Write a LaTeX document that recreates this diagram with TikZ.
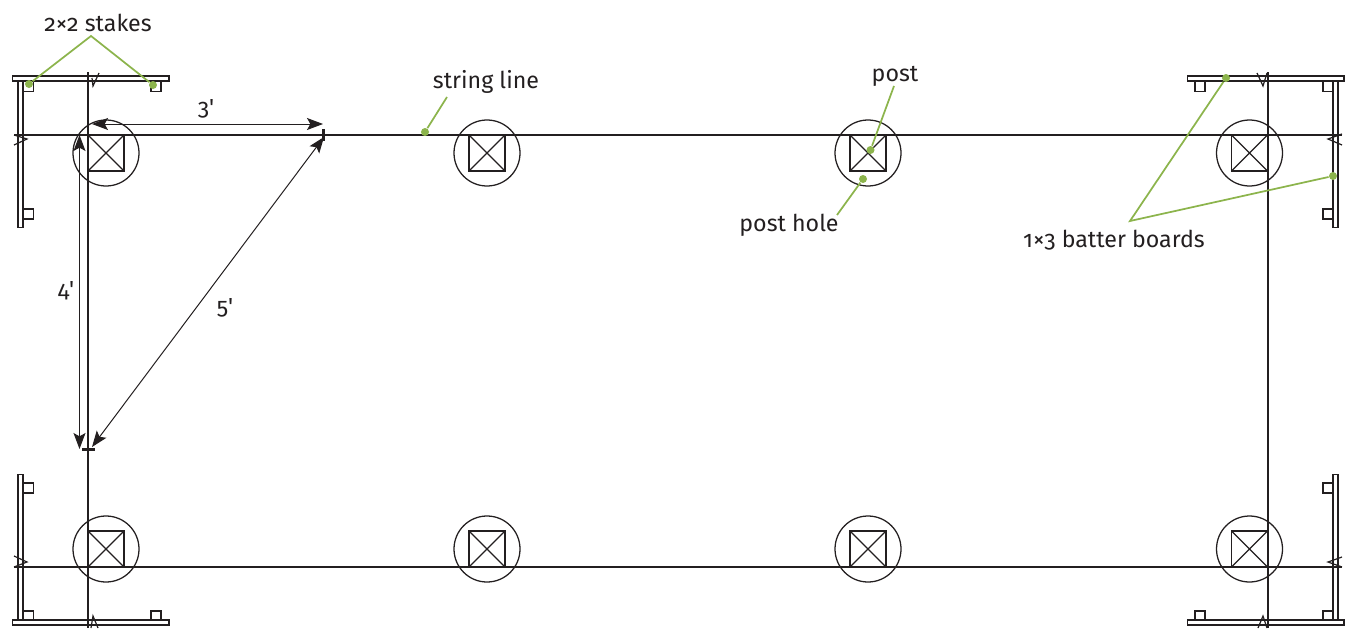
\documentclass[tikz,border=0pt]{standalone}
\usepackage{fontspec}
\setmainfont[Numbers=OldStyle]{Fira Sans}
\usepackage{tikz}
\usetikzlibrary{arrows.meta,positioning}
\definecolor{ink}{HTML}{231F20}
\definecolor{leaf}{HTML}{8CB44C}

\begin{document}
\begin{tikzpicture}[
    x = 0.75pt, y = -0.75pt, % one unit is one pixel, y runs downwards
    > = {Stealth[length=12pt,width=9pt,inset=2.5pt]}, % arrow head style
    line width = 0.8pt,
    draw = ink,
    post/.style = {draw = ink, line width = 1.4pt, minimum size = 27pt, inner sep = 0pt, outer sep = 0pt,
        path picture = {\draw[ink, line width = 0.9pt]
            (path picture bounding box.north west) -- (path picture bounding box.south east)
            (path picture bounding box.north east) -- (path picture bounding box.south west);}},
    hole/.style = {circle, draw = ink, line width = 0.95pt, minimum size = 49.5pt, inner sep = 0pt},
    hboard/.style = {draw = ink, fill = white, line width = 1pt, minimum width = 117.5pt, minimum height = 3.8pt, inner sep = 0pt},
    vboard/.style = {draw = ink, fill = white, line width = 1pt, minimum width = 3.8pt, minimum height = 110pt, inner sep = 0pt},
    stake/.style = {draw = ink, fill = white, line width = 1.05pt, minimum size = 7.6pt, inner sep = 0pt},
    string/.style = {ink, line width = 1.05pt},
    breakmark/.style = {ink, line width = 0.9pt},
    dim/.style = {ink, line width = 0.75pt, <->},
    tick/.style = {ink, line width = 1.7pt},
    leader/.style = {leaf, line width = 1.3pt},
    dot/.style = {circle, fill = leaf, minimum size = 6pt, inner sep = 0pt},
    lbl/.style = {text = ink, font = \fontsize{17.4}{20}\selectfont, inner sep = 0pt}
    ]
    \useasboundingbox (0,0) rectangle (1352,628);

    % stakes
    \node[stake] (st1) at (28.5,86.5) {};
    \node[stake] (st2) at (156,86.5) {};
    \node[stake] (st3) at (28.5,214) {};
    \node[stake] (st4) at (1200,86.5) {};
    \node[stake] (st5) at (1328,86.5) {};
    \node[stake] (st6) at (1328,214) {};
    \node[stake] (st7) at (28.5,488) {};
    \node[stake] (st8) at (28.5,616) {};
    \node[stake] (st9) at (156,616) {};
    \node[stake] (st10) at (1200,616) {};
    \node[stake] (st11) at (1328,616) {};
    \node[stake] (st12) at (1328,488) {};

    % batter boards
    \node[vboard] (bv1) at (20.5,154) {};
    \node[vboard] (bv2) at (1335.5,154) {};
    \node[vboard] (bv3) at (20.5,547.5) {};
    \node[vboard] (bv4) at (1335.5,547.5) {};
    \node[hboard] (bh1) at (90.5,78.5) {};
    \node[hboard] (bh2) at (1265.5,78.5) {};
    \node[hboard] (bh3) at (90.5,622.5) {};
    \node[hboard] (bh4) at (1265.5,622.5) {};

    % posts and holes
    \node[post] (p1) at (106,153) {};
    \node[post] (p2) at (487,153) {};
    \node[post] (p3) at (868,153) {};
    \node[post] (p4) at (1249.5,153) {};
    \node[post] (p5) at (106,549) {};
    \node[post] (p6) at (487,549) {};
    \node[post] (p7) at (868,549) {};
    \node[post] (p8) at (1249.5,549) {};
    \node[hole] (h1) at (p1) {};
    \node[hole] (h2) at (p2) {};
    \node[hole] (h3) at (p3) {};
    \node[hole] (h4) at (p4) {};
    \node[hole] (h5) at (p5) {};
    \node[hole] (h6) at (p6) {};
    \node[hole] (h7) at (p7) {};
    \node[hole] (h8) at (p8) {};

    % string lines
    \coordinate (sw1) at (14,135);
    \coordinate (se1) at (1342,135);
    \coordinate (sw2) at (14,567);
    \coordinate (se2) at (1342,567);
    \coordinate (sn1) at (88,72);
    \coordinate (ss1) at (88,628);
    \coordinate (sn2) at (1268,72);
    \coordinate (ss2) at (1268,628);
    \draw[string] (sw1) -- (se1);
    \draw[string] (sw2) -- (se2);
    \draw[string] (sn1) -- (ss1);
    \draw[string] (sn2) -- (ss2);

    % break marks where the strings are tied
    \draw[breakmark] (14,135) -- (27,139) -- (14,145);
    \draw[breakmark] (1342,134) -- (1328,139) -- (1342,145);
    \draw[breakmark] (14,556) -- (27,562) -- (14,567);
    \draw[breakmark] (1342,557) -- (1328,562) -- (1342,567);
    \draw[breakmark] (92,78) -- (93,86) -- (99,73);
    \draw[breakmark] (1257,73) -- (1263,86) -- (1267,73);
    \draw[breakmark] (91,628) -- (93,616) -- (98,628);
    \draw[breakmark] (1258,628) -- (1263,616) -- (1267,628);

    % 3-4-5 check
    \coordinate (m3) at (323.5,135);
    \coordinate (m4) at (88,449.5);
    \draw[tick] (323.5,129) -- (m3) -- (323.5,141);
    \draw[tick] (82,449.5) -- (m4) -- (95,449.5);
    \coordinate (a3l) at (92,124);
    \coordinate (a3r) at (323,124);
    \coordinate (a4t) at (79.5,135);
    \coordinate (a4b) at (79.5,449);
    \coordinate (a5t) at (324,137);
    \coordinate (a5b) at (92,447);
    \draw[dim] (a3l) -- (a3r);
    \draw[dim] (a4t) -- (a4b);
    \draw[dim] (a5t) -- (a5b);
    \node[lbl] (l3) at (206,109) {3\textquotesingle};
    \node[lbl] (l4) at (66,291) {4\textquotesingle};
    \node[lbl] (l5) at (225,308) {5\textquotesingle};

    % labels and leaders
    \node[lbl] (lstakes) at (98,23) {2×2 stakes};
    \node[lbl] (lstring) at (486,82) {string line};
    \node[lbl] (lpost) at (895,76) {post};
    \node[lbl] (lhole) at (789,225) {post hole};
    \node[lbl] (lboards) at (1114,240) {1×3 batter boards};

    \node[dot] (d1) at (29,84) {};
    \node[dot] (d2) at (153,85) {};
    \node[dot] (d3) at (425,132) {};
    \node[dot] (d4) at (870.5,150) {};
    \node[dot] (d5) at (863,179) {};
    \node[dot] (d6) at (1226,78) {};
    \node[dot] (d7) at (1333,176) {};

    \coordinate (apex1) at (91,36);
    \coordinate (apex2) at (447,97);
    \coordinate (apex3) at (894,86);
    \coordinate (apex4) at (837,215);
    \coordinate (apex5) at (1130,221);
    \draw[leader] (d1) -- (apex1) -- (d2);
    \draw[leader] (d3) -- (apex2);
    \draw[leader] (d4) -- (apex3);
    \draw[leader] (d5) -- (apex4);
    \draw[leader] (d6) -- (apex5) -- (d7);
\end{tikzpicture}
\end{document}
